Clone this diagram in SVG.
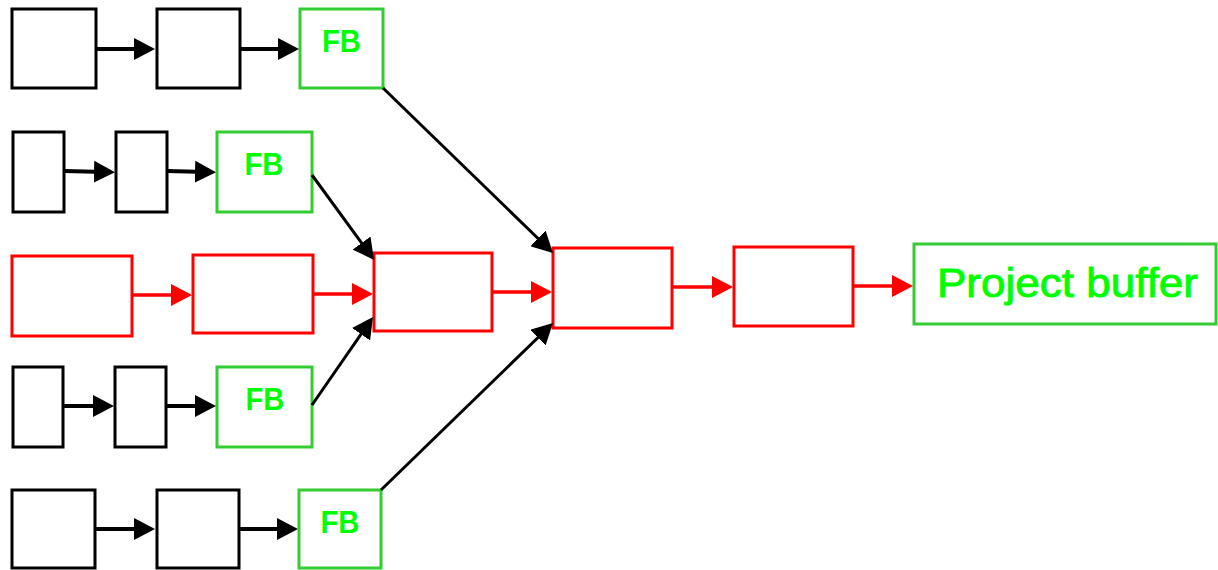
<svg xmlns="http://www.w3.org/2000/svg" width="1218" height="570" viewBox="0 0 1218 570">
  <style>
    .blk { fill: #ffffff; stroke: #000000; stroke-width: 3; }
    .red { fill: #ffffff; stroke: #ff0000; stroke-width: 3; }
    .grn { fill: #ffffff; stroke: #33cc33; stroke-width: 3; }
    .fb { font-family: "Liberation Sans", Arial, sans-serif; font-weight: bold; font-size: 32px; fill: #00ff00; text-anchor: middle; }
    .pb { font-family: "Liberation Sans", Arial, sans-serif; font-size: 40px; fill: #00ff00; stroke: #00ff00; stroke-width: 0.9; text-anchor: middle; }
    .ab { stroke: #000000; stroke-width: 4; fill: none; }
    .ad { stroke: #000000; stroke-width: 3; fill: none; }
    .ar { stroke: #ff0000; stroke-width: 3.5; fill: none; }
  </style>
  <defs>
    <marker id="headK" markerUnits="userSpaceOnUse" viewBox="0 0 21 22" markerWidth="21" markerHeight="22" refX="11" refY="11" orient="auto">
      <path d="M0,0 L21,11 L0,22 Z" fill="#000000"/>
    </marker>
    <marker id="headR" markerUnits="userSpaceOnUse" viewBox="0 0 21 22" markerWidth="21" markerHeight="22" refX="11" refY="11" orient="auto">
      <path d="M0,0 L21,11 L0,22 Z" fill="#ff0000"/>
    </marker>
  </defs>

  <!-- feeding chain 1 -->
  <g id="c1a"><rect class="blk" x="12" y="9" width="84" height="79"/></g>
  <g id="c1b"><rect class="blk" x="157" y="9" width="83" height="79"/></g>
  <g id="fb1"><rect class="grn" x="300" y="9" width="83" height="79"/><text class="fb" x="341.5" y="52" textLength="39" lengthAdjust="spacingAndGlyphs">FB</text></g>

  <!-- feeding chain 2 -->
  <g id="c2a"><rect class="blk" x="13" y="132" width="51" height="80"/></g>
  <g id="c2b"><rect class="blk" x="116" y="132" width="51" height="80"/></g>
  <g id="fb2"><rect class="grn" x="217" y="132" width="95" height="80"/><text class="fb" x="264" y="175" textLength="39" lengthAdjust="spacingAndGlyphs">FB</text></g>

  <!-- critical chain -->
  <g id="r1"><rect class="red" x="12" y="256" width="120" height="80"/></g>
  <g id="r2"><rect class="red" x="193" y="255" width="120" height="78"/></g>
  <g id="r3"><rect class="red" x="374" y="253" width="118" height="78"/></g>
  <g id="r4"><rect class="red" x="553" y="248" width="119" height="80"/></g>
  <g id="r5"><rect class="red" x="734" y="247" width="119" height="79"/></g>
  <g id="pb"><rect class="grn" x="914" y="244" width="302" height="80"/><text class="pb" x="1067.5" y="297" textLength="261" lengthAdjust="spacingAndGlyphs">Project buffer</text></g>

  <!-- feeding chain 4 -->
  <g id="c4a"><rect class="blk" x="13" y="367" width="50" height="80"/></g>
  <g id="c4b"><rect class="blk" x="115" y="367" width="51" height="80"/></g>
  <g id="fb4"><rect class="grn" x="217" y="367" width="95" height="80"/><text class="fb" x="265" y="410" textLength="39" lengthAdjust="spacingAndGlyphs">FB</text></g>

  <!-- feeding chain 5 -->
  <g id="c5a"><rect class="blk" x="12" y="490" width="83" height="78"/></g>
  <g id="c5b"><rect class="blk" x="157" y="490" width="82" height="78"/></g>
  <g id="fb5"><rect class="grn" x="299" y="490" width="82" height="78"/><text class="fb" x="340" y="533" textLength="39" lengthAdjust="spacingAndGlyphs">FB</text></g>

  <g id="connectors">
    <!-- chain links -->
    <line class="ab" x1="96" y1="49" x2="145" y2="49" marker-end="url(#headK)"/>
    <line class="ab" x1="240" y1="49" x2="289" y2="49" marker-end="url(#headK)"/>
    <line class="ab" x1="64" y1="171" x2="105" y2="172" marker-end="url(#headK)"/>
    <line class="ab" x1="167" y1="171" x2="206" y2="172" marker-end="url(#headK)"/>
    <line class="ab" x1="63" y1="406" x2="104" y2="406" marker-end="url(#headK)"/>
    <line class="ab" x1="166" y1="406" x2="206" y2="406" marker-end="url(#headK)"/>
    <line class="ab" x1="95" y1="529" x2="145" y2="529" marker-end="url(#headK)"/>
    <line class="ab" x1="239" y1="529" x2="288" y2="529" marker-end="url(#headK)"/>
    <!-- feeding buffers into the critical chain -->
    <line class="ad" x1="383" y1="88" x2="545.8" y2="246" marker-end="url(#headK)"/>
    <line class="ad" x1="312" y1="175" x2="368.1" y2="251.9" marker-end="url(#headK)"/>
    <line class="ad" x1="312" y1="405" x2="367.3" y2="325.2" marker-end="url(#headK)"/>
    <line class="ad" x1="381" y1="490" x2="545.8" y2="330" marker-end="url(#headK)"/>
    <!-- critical chain links -->
    <line class="ar" x1="132" y1="295" x2="182" y2="295" marker-end="url(#headR)"/>
    <line class="ar" x1="313" y1="294" x2="363" y2="294" marker-end="url(#headR)"/>
    <line class="ar" x1="492" y1="292" x2="542" y2="292" marker-end="url(#headR)"/>
    <line class="ar" x1="672" y1="287" x2="723" y2="287" marker-end="url(#headR)"/>
    <line class="ar" x1="853" y1="286" x2="903" y2="286" marker-end="url(#headR)"/>
  </g>
</svg>
